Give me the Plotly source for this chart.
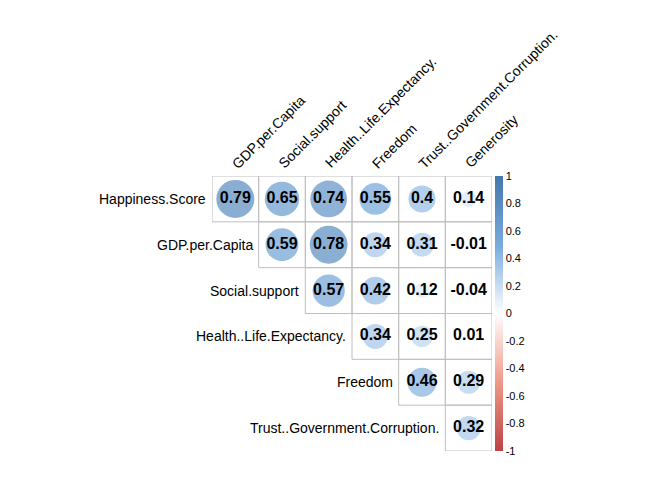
import numpy as np
import plotly.graph_objects as go

rows = ["Happiness.Score", "GDP.per.Capita", "Social.support",
        "Health..Life.Expectancy.", "Freedom", "Trust..Government.Corruption."]
cols = ["GDP.per.Capita", "Social.support", "Health..Life.Expectancy.",
        "Freedom", "Trust..Government.Corruption.", "Generosity"]
# upper triangle values, row i starts at column i
vals = [
    [0.79, 0.65, 0.74, 0.55, 0.40, 0.14],
    [0.59, 0.78, 0.34, 0.31, -0.01],
    [0.57, 0.42, 0.12, -0.04],
    [0.34, 0.25, 0.01],
    [0.46, 0.29],
    [0.32],
]

scale = [[0, "#BB4444"], [0.25, "#EE9988"], [0.5, "#FFFFFF"], [0.75, "#77AADD"], [1, "#4477AA"]]
FONT = "Liberation Sans, Arial"

xs, ys, r, txt = [], [], [], []
for i, row in enumerate(vals):
    for k, v in enumerate(row):
        xs.append(i + k); ys.append(i); r.append(v)
        txt.append(("%.2f" % v).rstrip("0").rstrip("."))

cell = 46.5
fig = go.Figure()
shapes = []
for x, y in zip(xs, ys):
    shapes.append(dict(type="rect", x0=x - 0.5, x1=x + 0.5, y0=y - 0.5, y1=y + 0.5,
                       line=dict(color="#BEBEBE", width=1), layer="below"))

fig.add_trace(go.Scatter(
    x=xs, y=ys, mode="markers+text", text=txt,
    textfont=dict(family=FONT, size=16, color="black", weight="bold"),
    marker=dict(size=[cell * 0.92 * np.sqrt(abs(v)) for v in r], color=r,
                colorscale=scale, cmin=-1, cmax=1, line=dict(width=0),
                colorbar=dict(x=484 / 672, xanchor="left", y=37 / 480, yanchor="bottom",
                              len=275 / 480, lenmode="fraction", thickness=8, outlinewidth=0,
                              tickvals=[round(-1 + 0.2 * k, 1) for k in range(11)],
                              ticktext=["-1", "-0.8", "-0.6", "-0.4", "-0.2", "0", "0.2", "0.4", "0.6", "0.8", "1"],
                              tickfont=dict(family=FONT, size=11, color="black"),
                              ticks="", ypad=0, xpad=3)),
    hoverinfo="skip", showlegend=False))

ann = []
for i, name in enumerate(rows):
    ann.append(dict(x=i - 0.5, y=i, xref="x", yref="y", text=name, showarrow=False,
                    xanchor="right", xshift=-4, font=dict(family=FONT, size=14, color="black")))
for j, name in enumerate(cols):
    ann.append(dict(x=j - 0.2, y=-0.5, xref="x", yref="y", text=name, showarrow=False,
                    textangle=-45, xanchor="left", yanchor="bottom", yshift=2,
                    font=dict(family=FONT, size=14, color="black")))

fig.update_layout(
    width=672, height=480, margin=dict(l=0, r=0, t=0, b=0),
    plot_bgcolor="white", paper_bgcolor="white",
    shapes=shapes, annotations=ann,
    xaxis=dict(domain=[204 / 672, 484 / 672], range=[-0.5, 5.5], visible=False, fixedrange=True),
    yaxis=dict(domain=[37 / 480, 312 / 480], range=[5.5, -0.5], visible=False, fixedrange=True),
)
fig.write_html("out.html")
